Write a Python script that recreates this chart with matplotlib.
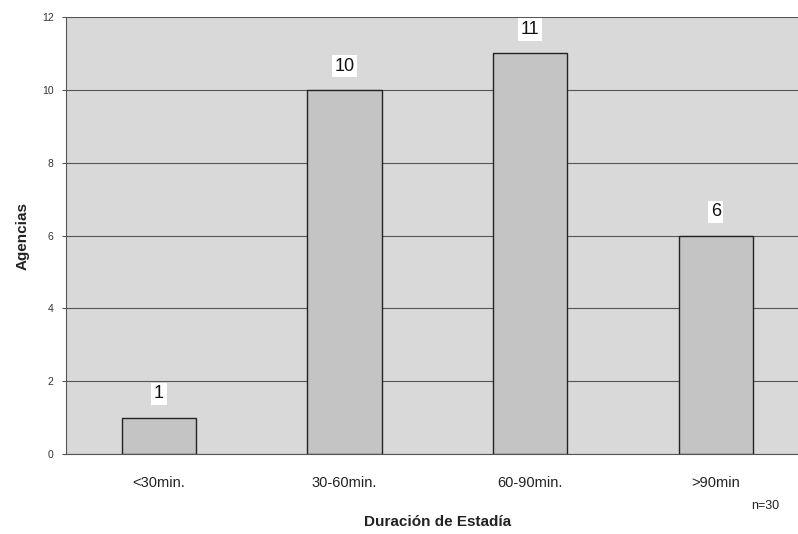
import matplotlib
matplotlib.use("Agg")
import matplotlib.pyplot as plt

plt.rcParams["font.family"] = ["Liberation Sans", "DejaVu Sans"]

categories = ["<30min.", "30-60min.", "60-90min.", ">90min"]
agencias = [1, 10, 11, 6]
yticks = [0, 2, 4, 6, 8, 10, 12]

fig = plt.figure(figsize=(7.98, 5.34), dpi=100)
fig.patch.set_facecolor("white")
ax = fig.add_axes([66 / 798, 80 / 534, (808.5 - 66) / 798, (454 - 17) / 534])
ax.set_facecolor("#d9d9d9")

x = list(range(len(categories)))
ax.bar(x, agencias, width=0.4, color="#c4c4c4", edgecolor="#222222", linewidth=1.0, zorder=3)

for xi, v in zip(x, agencias):
    ax.annotate(str(v), (xi, v), xytext=(0, 11), textcoords="offset points",
                ha="center", va="bottom", fontsize=13, color="#111111",
                bbox=dict(boxstyle="square,pad=0.15", fc="white", ec="none"), zorder=4)

ax.set_xlim(-0.5, 3.5)
ax.set_ylim(0, 12)
ax.set_yticks(yticks)
ax.set_yticklabels([str(t) for t in yticks], fontsize=7.5, color="#333333")
ax.yaxis.grid(True, color="#555555", linewidth=0.8, zorder=1)
ax.set_axisbelow(True)
ax.set_xticks(x)
ax.set_xticklabels(categories, fontsize=10.5, color="#222222")
ax.tick_params(axis="x", length=0, pad=16)
ax.tick_params(axis="y", length=3, color="#555555", pad=6)

for side in ["top", "right"]:
    ax.spines[side].set_visible(False)
ax.spines["left"].set_color("#555555")
ax.spines["bottom"].set_color("#555555")

ax.set_xlabel("Duración de Estadía", fontsize=11, fontweight="bold", color="#222222", labelpad=18)
ax.set_ylabel("Agencias", fontsize=11, fontweight="bold", color="#222222", labelpad=9)

fig.text(765 / 798, 1 - 506 / 534, "n=30", ha="center", va="center", fontsize=9, color="#222222")

fig.savefig("out.png", dpi=100)
